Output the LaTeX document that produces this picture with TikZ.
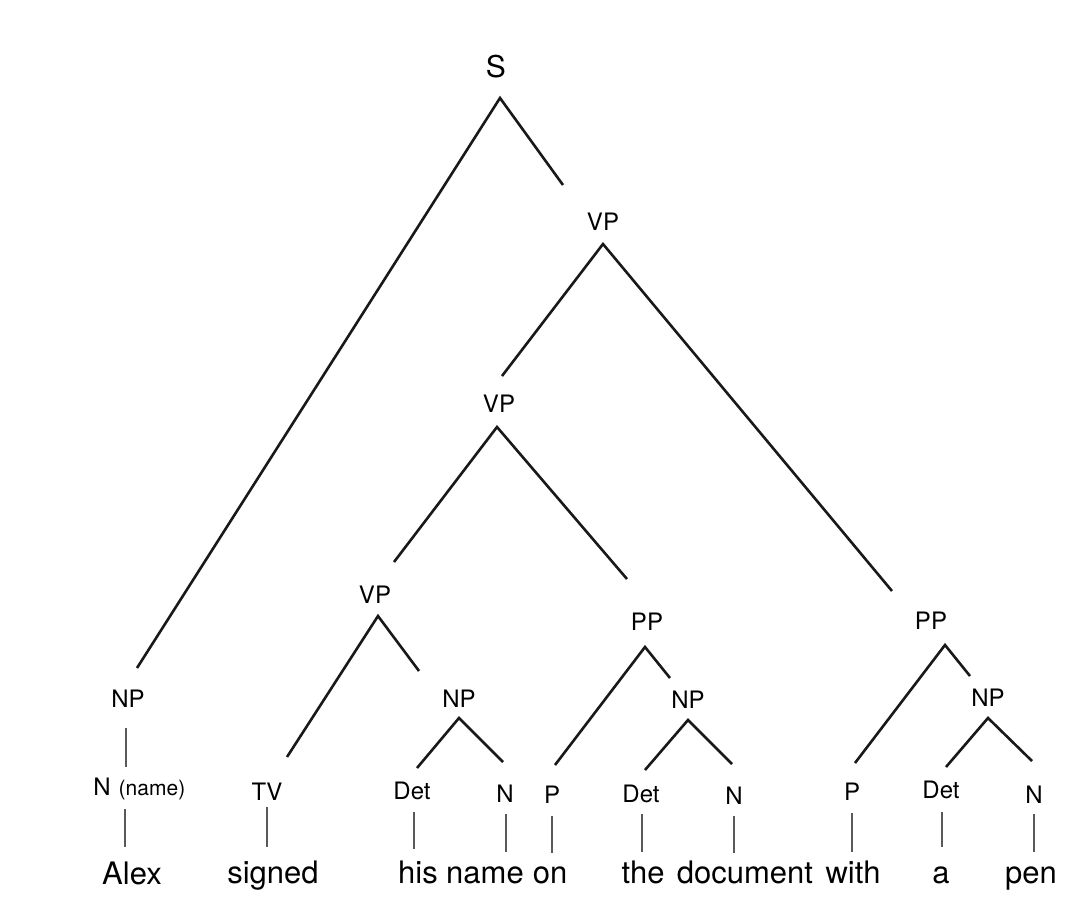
\documentclass[tikz,border=0pt]{standalone}
\usepackage{fontspec}
\setmainfont{TeX Gyre Heros}
\begin{document}
\begin{tikzpicture}[x=1pt,y=-1pt,
  lab/.style={inner sep=0pt,anchor=base,font=\fontsize{24}{24}\selectfont},
  top/.style={inner sep=0pt,anchor=base,font=\fontsize{30}{30}\selectfont},
  word/.style={inner sep=0pt,anchor=base,font=\fontsize{31}{31}\selectfont},
  small/.style={inner sep=0pt,anchor=base,font=\fontsize{21}{21}\selectfont},
  branch/.style={line width=2.6pt,black!90},
  stem/.style={line width=1.7pt,black!65}]
\useasboundingbox[fill=white] (0,0) rectangle (1080,911);
% phrase labels
\node[top] (S) at (496,77) {S};
\node[lab] (VPa) at (603,230) {VP};
\node[lab] (VPb) at (499,412) {VP};
\node[lab] (VPc) at (375,603) {VP};
\node[lab] (PPa) at (647,630) {PP};
\node[lab] (PPb) at (931,629) {PP};
\node[lab] (NPa) at (128,707) {NP};
\node[lab] (NPb) at (459,707) {NP};
\node[lab] (NPc) at (688,708) {NP};
\node[lab] (NPd) at (988,706) {NP};
% preterminals
\node[lab] (Na) at (102,795) {N};
\node[small] (Nname) at (152,795) {(name)};
\node[lab] (TV) at (267,800) {TV};
\node[lab] (Deta) at (412,799) {Det};
\node[lab] (Nb) at (505,802) {N};
\node[lab] (Pa) at (552,803) {P};
\node[lab] (Detb) at (641,802) {Det};
\node[lab] (Nc) at (734,804) {N};
\node[lab] (Pb) at (852,800) {P};
\node[lab] (Detc) at (941,798) {Det};
\node[lab] (Nd) at (1034,803) {N};
% words
\node[word] (wAlex) at (132,884) {Alex};
\node[word] (wsigned) at (273,883) {signed};
\node[word] (whis) at (418,883) {his};
\node[word] (wname) at (485,883) {name};
\node[word] (won) at (550,883) {on};
\node[word] (wthe) at (643,883) {the};
\node[word] (wdoc) at (745,883) {document};
\node[word] (wwith) at (853,883) {with};
\node[word] (wa) at (941,883) {a};
\node[word] (wpen) at (1031,883) {pen};
% branch apexes and ends
\coordinate (S-a) at (500,98);
\coordinate (VPa-a) at (603,244);
\coordinate (VPb-a) at (497,427);
\coordinate (VPc-a) at (378,616);
\coordinate (PPa-a) at (645,647);
\coordinate (PPb-a) at (945,645);
\coordinate (NPb-a) at (459,718);
\coordinate (NPc-a) at (688,720);
\coordinate (NPd-a) at (988,718);
\coordinate (NPa-e) at (137,668);
\coordinate (VPa-e) at (563,185);
\coordinate (VPb-e) at (502,376);
\coordinate (PPb-e) at (892,591);
\coordinate (VPc-e) at (394,562);
\coordinate (PPa-e) at (627,579);
\coordinate (TV-e) at (287,757);
\coordinate (NPb-e) at (419,671);
\coordinate (Pa-e) at (555,765);
\coordinate (NPc-e) at (670,678);
\coordinate (Pb-e) at (855,763);
\coordinate (NPd-e) at (970,676);
\coordinate (Deta-e) at (417,768);
\coordinate (Nb-e) at (503,762);
\coordinate (Detb-e) at (645,770);
\coordinate (Nc-e) at (732,764);
\coordinate (Detc-e) at (946,767);
\coordinate (Nd-e) at (1032,761);
\draw[branch] (NPa-e) -- (S-a) -- (VPa-e);
\draw[branch] (VPb-e) -- (VPa-a) -- (PPb-e);
\draw[branch] (VPc-e) -- (VPb-a) -- (PPa-e);
\draw[branch] (TV-e) -- (VPc-a) -- (NPb-e);
\draw[branch] (Pa-e) -- (PPa-a) -- (NPc-e);
\draw[branch] (Pb-e) -- (PPb-a) -- (NPd-e);
\draw[branch] (Deta-e) -- (NPb-a) -- (Nb-e);
\draw[branch] (Detb-e) -- (NPc-a) -- (Nc-e);
\draw[branch] (Detc-e) -- (NPd-a) -- (Nd-e);
% unary stems
\draw[stem] (126,728) coordinate (NPa-s) -- (126,767) coordinate (Na-t);
\draw[stem] (125,809) coordinate (Na-s) -- (125,847) coordinate (wAlex-t);
\draw[stem] (267,807) coordinate (TV-s) -- (267,847) coordinate (wsigned-t);
\draw[stem] (414,812) coordinate (Deta-s) -- (414,849) coordinate (whis-t);
\draw[stem] (506,814) coordinate (Nb-s) -- (506,852) coordinate (wname-t);
\draw[stem] (552,816) coordinate (Pa-s) -- (552,853) coordinate (won-t);
\draw[stem] (642,814) coordinate (Detb-s) -- (642,852) coordinate (wthe-t);
\draw[stem] (734,816) coordinate (Nc-s) -- (734,853) coordinate (wdoc-t);
\draw[stem] (852,813) coordinate (Pb-s) -- (852,852) coordinate (wwith-t);
\draw[stem] (942,812) coordinate (Detc-s) -- (942,847) coordinate (wa-t);
\draw[stem] (1034,814) coordinate (Nd-s) -- (1034,852) coordinate (wpen-t);
\end{tikzpicture}
\end{document}
